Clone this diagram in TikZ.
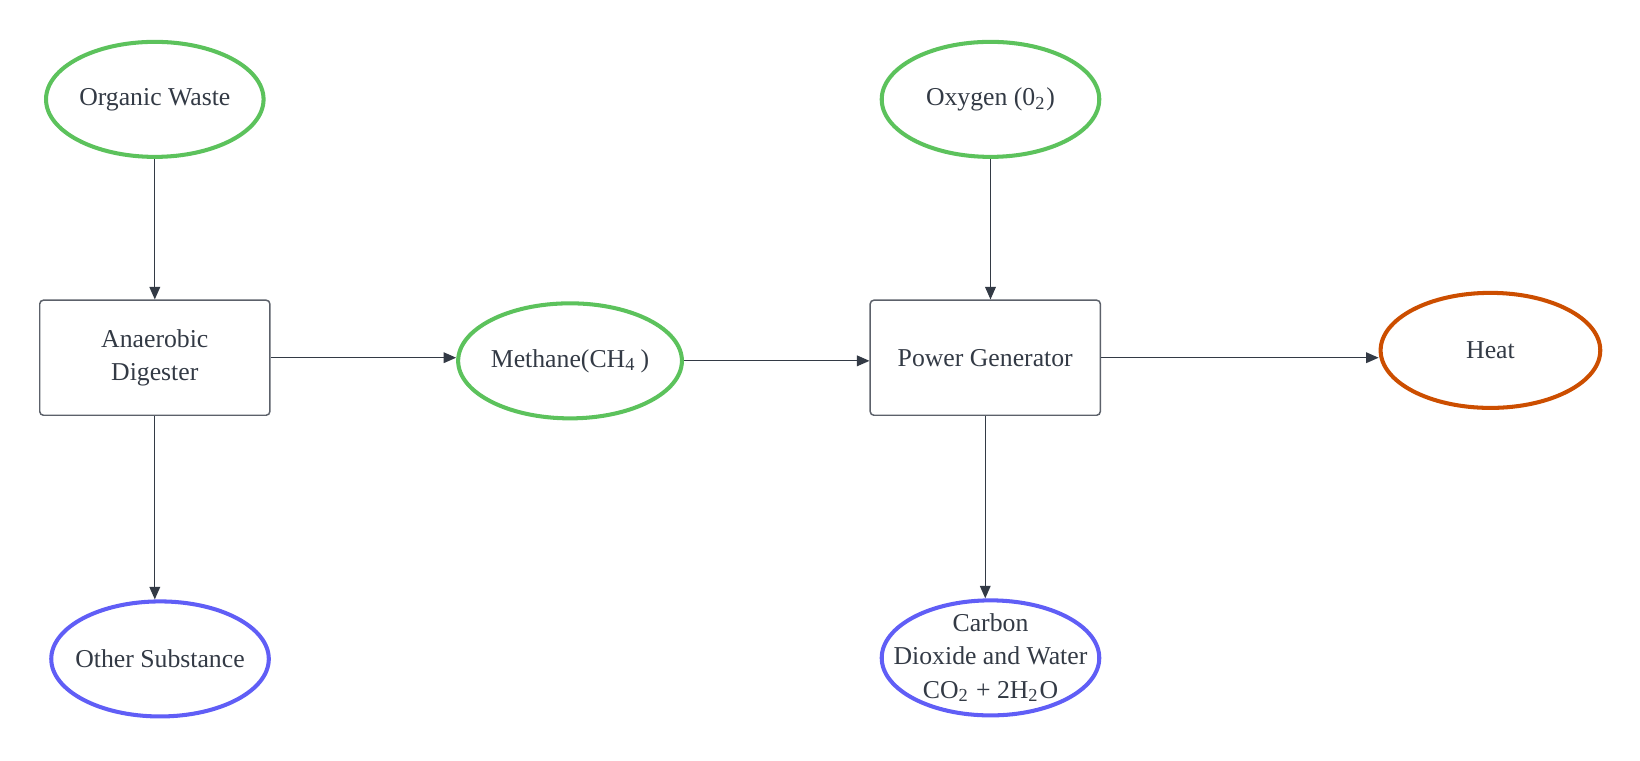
\documentclass[tikz,border=0pt]{standalone}
\usepackage{fontspec}
\setmainfont{Liberation Serif}
\usepackage{tikz}
\usetikzlibrary{shapes.geometric, arrows.meta}
\definecolor{inkgray}{RGB}{51,58,69}
\definecolor{leafgreen}{RGB}{92,194,92}
\definecolor{violetblue}{RGB}{96,94,246}
\definecolor{burnorange}{RGB}{204,78,0}
\tikzstyle{input} = [ellipse, minimum width=2.08cm, minimum height=1.1cm, inner sep=0pt, text centered, draw=leafgreen, line width=1.1pt, text=inkgray]
\tikzstyle{byproduct} = [ellipse, minimum width=2.08cm, minimum height=1.1cm, inner sep=-0.2cm, text centered, draw=violetblue, line width=1.1pt, text=inkgray, align=center]
\tikzstyle{energy} = [ellipse, minimum width=2.1cm, minimum height=1.1cm, inner sep=0pt, text centered, draw=burnorange, line width=1.1pt, text=inkgray]
\tikzstyle{unit} = [rectangle, rounded corners=1pt, minimum width=2.2cm, minimum height=1.1cm, text centered, draw=inkgray!80, line width=0.4pt, text=inkgray, align=center]
\tikzstyle{arrow} = [line width=0.35pt, draw=inkgray, -{Triangle[length=3.4pt,width=2.9pt]}]

\begin{document}
\begin{tikzpicture}[node distance=2.47cm, font=\fontsize{7pt}{9pt}\selectfont]
\useasboundingbox (-1.48,-6.32) rectangle (14.20,0.95);
\node (organicWaste) [input] {Organic Waste};
\node (digester) [unit, below of=organicWaste] {Anaerobic\\Digester};
\node (otherSub) [byproduct, below of=digester, yshift=-0.41cm, xshift=0.05cm] {Other Substance};
\node (methane) [input, right of=digester, xshift=1.5cm, yshift=-0.03cm] {Methane(CH\textsubscript{4}\,)};
\node (powerGen) [unit, right of=methane, xshift=1.5cm, yshift=0.03cm] {Power Generator};
\node (oxygen) [input, above of=powerGen, xshift=0.05cm] {Oxygen (0\textsubscript{2})};
\node (carbonWater) [byproduct, below of=powerGen, yshift=-0.4cm, xshift=0.05cm] {Carbon\\Dioxide and Water\\CO\textsubscript{2} + 2H\textsubscript{2}O};
\node (heat) [energy, right of=powerGen, xshift=2.36cm, yshift=0.07cm] {Heat};

\draw [arrow] (organicWaste) -- (digester);
\draw [arrow] (digester.east) -- (digester.east -| methane.west);
\draw [arrow] (methane.east) -- (methane.east -| powerGen.west);
\draw [arrow] (oxygen.south) -- (oxygen.south |- powerGen.north);
\draw [arrow] (powerGen.east) -- (powerGen.east -| heat.west);
\draw [arrow] (digester.south) -- (digester.south |- otherSub.north);
\draw [arrow] (powerGen.south) -- (powerGen.south |- carbonWater.north);
\end{tikzpicture}
\end{document}
